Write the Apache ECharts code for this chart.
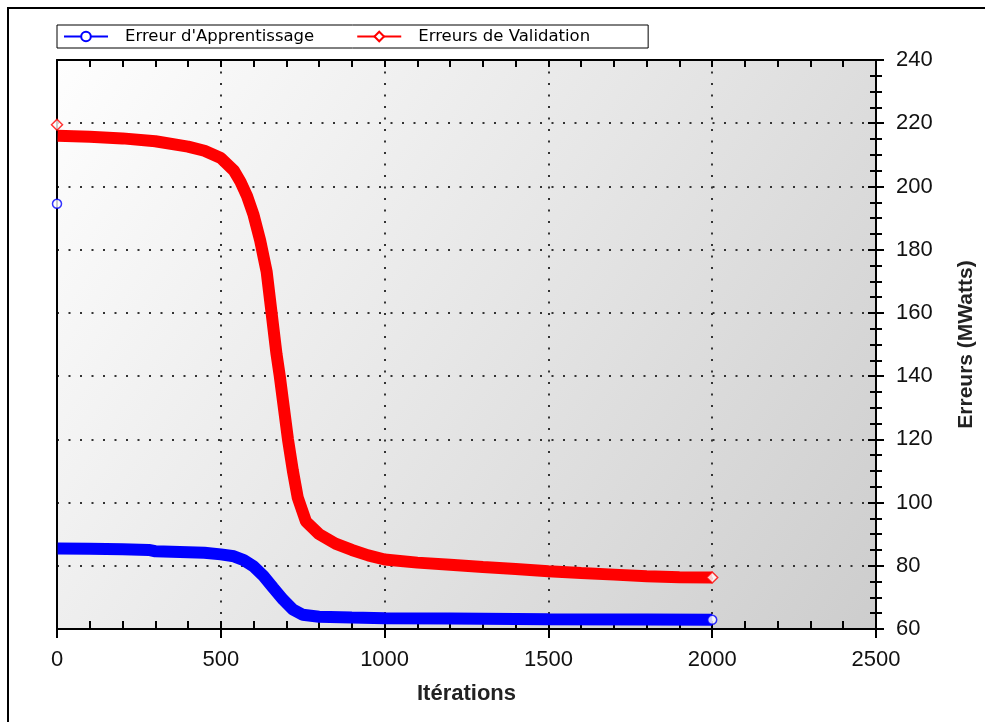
<!DOCTYPE html>
<html>
<head>
<meta charset="utf-8">
<script src="https://cdn.jsdelivr.net/npm/echarts@6/dist/echarts.min.js"></script>
<style>html,body{margin:0;padding:0;background:#fff;}#main{width:985px;height:722px;}</style>
</head>
<body>
<div id="main"></div>
<script>
// Data
var trainName = "Erreur d'Apprentissage";
var validName = "Erreurs de Validation";
var iterTrain = [0, 2, 100, 200, 280, 300, 400, 450, 500, 540, 570, 600, 630, 660, 690, 720, 750, 800, 900, 1000, 1200, 1500, 1800, 2000];
var train     = [194.5, 85.5, 85.4, 85.2, 85, 84.6, 84.3, 84.1, 83.6, 83, 81.8, 79.8, 76.8, 73, 69.3, 66.2, 64.5, 63.9, 63.6, 63.4, 63.3, 63.1, 63, 62.9];
var iterValid = [0, 2, 100, 200, 300, 400, 450, 500, 540, 560, 580, 600, 620, 640, 655, 670, 680, 690, 705, 720, 735, 760, 800, 850, 900, 950, 1000, 1100, 1200, 1300, 1400, 1500, 1600, 1700, 1800, 1900, 2000];
var valid     = [219.5, 216, 215.7, 215.2, 214.3, 212.6, 211.3, 209, 205, 201.5, 197, 191, 183, 173, 160, 147, 140, 132, 120, 110, 101.5, 94, 90, 87, 85, 83.3, 82, 81, 80.3, 79.6, 79, 78.3, 77.7, 77.2, 76.7, 76.4, 76.3];
var xTicks = [0, 500, 1000, 1500, 2000, 2500];
var yTicks = [60, 80, 100, 120, 140, 160, 180, 200, 220, 240];

function pairs(xs, ys) { return xs.map(function (x, i) { return [x, ys[i]]; }); }
var trainPts = pairs(iterTrain, train);
var validPts = pairs(iterValid, valid);
var trainEnds = [trainPts[0], trainPts[trainPts.length - 1]];
var validEnds = [validPts[0], validPts[validPts.length - 1]];

var chart = echarts.init(document.getElementById('main'));
var font = 'Liberation Sans, Arial, sans-serif';
var dotted = { color: '#333', width: 2, type: [2, 9.5] };
var xBase = { type: 'value', min: xTicks[0], max: xTicks[xTicks.length - 1], interval: 500 };
var yBase = { type: 'value', min: yTicks[0], max: yTicks[yTicks.length - 1], interval: 20 };
var plain = function (v) { return String(v); };

chart.setOption({
  animation: false,
  backgroundColor: '#fff',
  textStyle: { fontFamily: font },
  graphic: [{
    type: 'rect', shape: { x: 8, y: 8, width: 1000, height: 740 },
    style: { fill: 'none', stroke: '#000', lineWidth: 2 }, z: 100
  }],
  grid: {
    left: 57, right: 108, top: 60, bottom: 93, show: true, borderWidth: 0,
    backgroundColor: new echarts.graphic.LinearGradient(0, 0, 1, 1, [
      { offset: 0, color: '#fefefe' }, { offset: 0.5, color: '#e6e6e6' }, { offset: 1, color: '#cdcdcd' }
    ])
  },
  legend: {
    left: 57, top: 25, orient: 'horizontal',
    data: [trainName, validName],
    borderColor: '#000', borderWidth: 1, padding: [3, 58, 3, 6],
    itemWidth: 44, itemHeight: 12, itemGap: 42,
    textStyle: { fontFamily: 'DejaVu Sans, sans-serif', fontSize: 16.5, color: '#000', padding: [0, 0, 0, 12] }
  },
  xAxis: [
    Object.assign({}, xBase, {
      position: 'bottom',
      axisLine: { show: true, onZero: false, lineStyle: { color: '#000', width: 2 } },
      axisTick: { show: true, inside: true, length: 8, lineStyle: { color: '#000', width: 2 } },
      minorTick: { show: true, splitNumber: 5, length: 8, lineStyle: { color: '#000', width: 2 } },
      axisLabel: { show: true, margin: 20, fontSize: 22, color: '#111', fontFamily: font, formatter: plain },
      splitLine: { show: true, lineStyle: dotted },
      name: 'Itérations', nameLocation: 'middle', nameGap: 54,
      nameTextStyle: { fontSize: 22, fontWeight: 'bold', color: '#222', fontFamily: font }
    }),
    Object.assign({}, xBase, {
      position: 'bottom',
      axisLine: { show: false, onZero: false },
      axisTick: { show: true, inside: false, length: 9, lineStyle: { color: '#000', width: 2 } },
      axisLabel: { show: false }, splitLine: { show: false }
    }),
    Object.assign({}, xBase, {
      position: 'top',
      axisLine: { show: true, onZero: false, lineStyle: { color: '#000', width: 2 } },
      axisTick: { show: true, inside: true, length: 7, lineStyle: { color: '#000', width: 2 } },
      minorTick: { show: true, splitNumber: 5, length: 7, lineStyle: { color: '#000', width: 2 } },
      axisLabel: { show: false }, splitLine: { show: false }
    })
  ],
  yAxis: [
    Object.assign({}, yBase, {
      position: 'right',
      axisLine: { show: true, onZero: false, lineStyle: { color: '#000', width: 2 } },
      axisTick: { show: true, inside: true, length: 8, lineStyle: { color: '#000', width: 2 } },
      minorTick: { show: true, splitNumber: 4, length: 6, lineStyle: { color: '#000', width: 2 } },
      axisLabel: { show: true, margin: 20, fontSize: 22, color: '#111', fontFamily: font, formatter: plain },
      splitLine: { show: true, lineStyle: dotted },
      name: 'Erreurs (MWatts)', nameLocation: 'middle', nameGap: 80, nameRotate: 90,
      nameTextStyle: { fontSize: 21, fontWeight: 'bold', color: '#222', fontFamily: font }
    }),
    Object.assign({}, yBase, {
      position: 'right',
      axisLine: { show: false, onZero: false },
      axisTick: { show: true, inside: false, length: 8, lineStyle: { color: '#000', width: 2 } },
      minorTick: { show: true, splitNumber: 4, length: 6, lineStyle: { color: '#000', width: 2 } },
      axisLabel: { show: false }, splitLine: { show: false }
    }),
    Object.assign({}, yBase, {
      position: 'left',
      axisLine: { show: true, onZero: false, lineStyle: { color: '#000', width: 2 } },
      axisTick: { show: false }, axisLabel: { show: false }, splitLine: { show: false }
    })
  ],
  series: [
    {
      name: trainName, type: 'line', xAxisIndex: 0, yAxisIndex: 0,
      data: trainPts.slice(1), showSymbol: false, symbol: 'emptyCircle', symbolSize: 9,
      color: '#0000ff', lineStyle: { color: '#0000ff', width: 12 }, z: 3
    },
    {
      name: validName, type: 'line', xAxisIndex: 0, yAxisIndex: 0,
      data: validPts.slice(1), showSymbol: false, symbol: 'emptyDiamond', symbolSize: 10,
      color: '#ff0000', lineStyle: { color: '#ff0000', width: 12 }, z: 3
    },
    {
      name: 'trainEnds', type: 'scatter', data: trainEnds, symbol: 'circle', symbolSize: 9,
      itemStyle: { color: '#fff', borderColor: '#0000ff', borderWidth: 1.5 }, z: 4
    },
    {
      name: 'validEnds', type: 'scatter', data: validEnds, symbol: 'diamond', symbolSize: 11,
      itemStyle: { color: '#fff', borderColor: '#ff0000', borderWidth: 1.5 }, z: 4
    }
  ]
});
</script>
</body>
</html>
